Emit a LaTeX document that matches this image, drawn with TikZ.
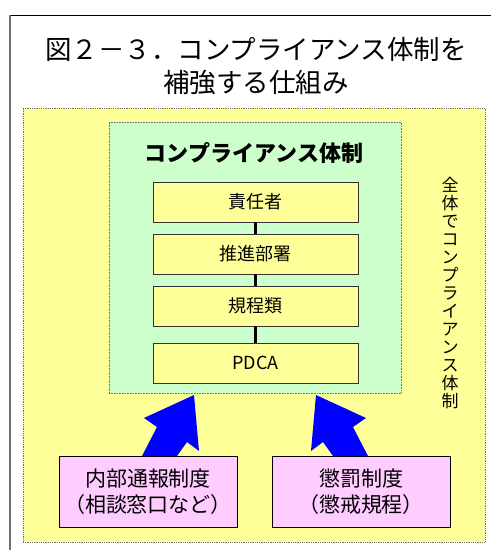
\documentclass[tikz,border=0pt]{standalone}
\usepackage{fontspec}
\setmainfont{Noto Sans CJK JP}
\definecolor{outery}{HTML}{FFFF99}
\definecolor{greenb}{HTML}{CCFFCC}
\definecolor{pinkb}{HTML}{FFCCFF}
\definecolor{framegray}{HTML}{707070}
\begin{document}
\begin{tikzpicture}[x=1pt,y=-1pt,
  stagebox/.style={draw=black!80,line width=0.9pt,fill=outery,minimum width=205pt,minimum height=40pt,inner sep=0pt,font=\fontsize{18}{20}\selectfont},
  pinkbox/.style={draw=black,line width=0.9pt,fill=pinkb,inner sep=0pt,align=center,font=\fontsize{21}{26}\selectfont},
  link/.style={line width=3pt,black},
  bluearrow/.style={fill=blue,draw=none}]
\useasboundingbox (0,0) rectangle (491,550);
\fill[white] (0,0) rectangle (491,550);
% outer frame lines
\draw[black,line width=1pt] (10,15) -- (491,15);
\draw[framegray,line width=1.5pt] (10,15) -- (10,550);
% title
\node[align=center,font=\fontsize{26.5}{33}\selectfont] (title) at (256,66) {図２－３．コンプライアンス体制を\\補強する仕組み};
% outer yellow area
\node[draw=framegray,densely dotted,line width=0.8pt,fill=outery,minimum width=462pt,minimum height=434pt,inner sep=0pt] (outer) at (254,325) {};
% green area
\node[draw=framegray,densely dotted,line width=0.6pt,fill=greenb,minimum width=292pt,minimum height=271pt,inner sep=0pt] (green) at (255,257.5) {};
\node[font=\bfseries\fontsize{22}{24}\selectfont] (gtitle) at (254,153) {コンプライアンス体制};
% stages
\node[stagebox] (s1) at (255.5,202) {責任者};
\node[stagebox] (s2) at (255.5,254) {推進部署};
\node[stagebox] (s3) at (255.5,306) {規程類};
\node[stagebox] (s4) at (255.5,363) {PDCA};
\draw[link] (s1.south) -- (s2.north);
\draw[link] (s2.south) -- (s3.north);
\draw[link] (s3.south) -- (s4.north);
% vertical text
\node[align=center,font=\fontsize{17}{18}\selectfont,inner sep=0pt] (vert) at (450,293) {全\\体\\で\\コ\\ン\\プ\\ラ\\イ\\ア\\ン\\ス\\体\\制};
% pink boxes
\node[pinkbox,minimum width=178pt,minimum height=71pt] (p1) at (148,491.5) {内部通報制度\\（相談窓口など）};
\node[pinkbox,minimum width=178pt,minimum height=71pt] (p2) at (361,491.5) {懲罰制度\\（懲戒規程）};
% blue arrows
\fill[bluearrow] (194,395) -- (144,418) -- (157,427) -- (142,456) -- (177,456) -- (187,442) -- (199,451) -- cycle;
\fill[bluearrow] (316,395) -- (366,418) -- (353,427) -- (368,456) -- (333,456) -- (323,442) -- (311,451) -- cycle;
\end{tikzpicture}
\end{document}
